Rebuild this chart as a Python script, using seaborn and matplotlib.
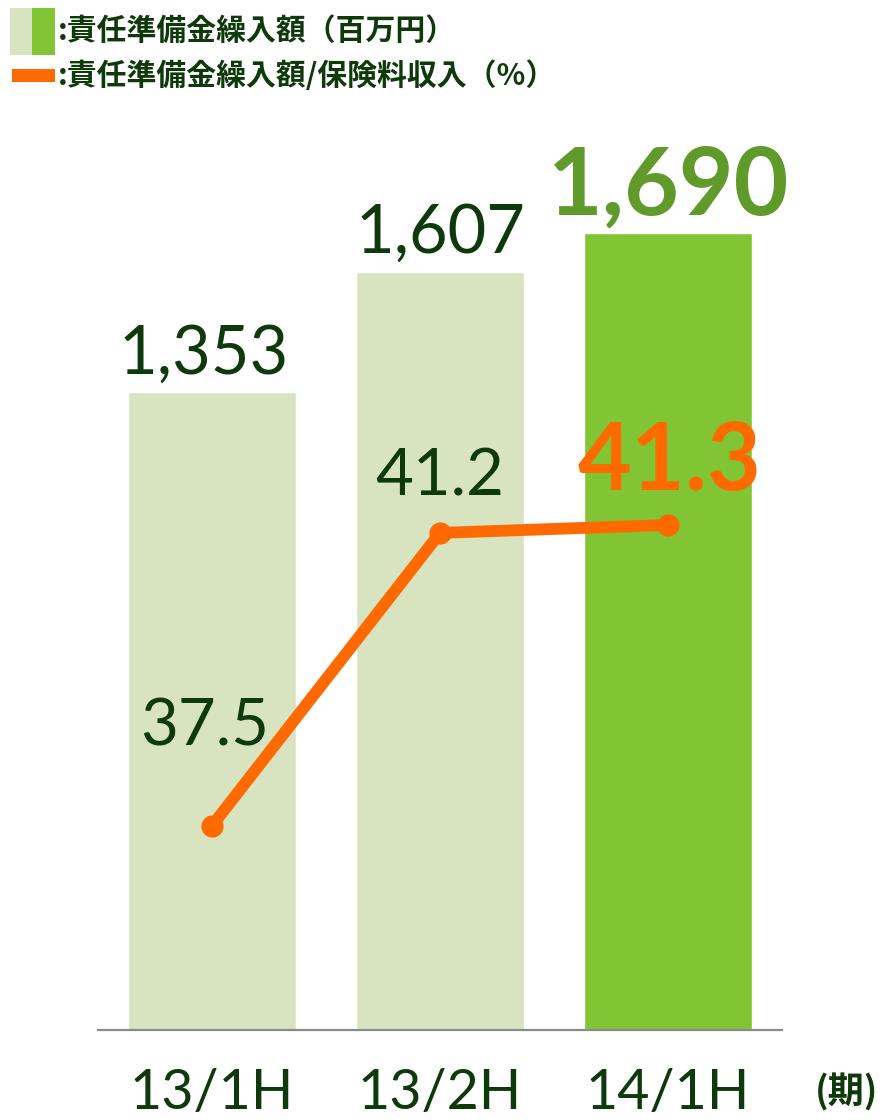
import matplotlib
matplotlib.use("Agg")
import matplotlib.pyplot as plt
from matplotlib.patches import Rectangle
import seaborn as sns
import pandas as pd

# data
period_labels = ["13/1H", "13/2H", "14/1H"]
amounts = [1353, 1607, 1690]          # 責任準備金繰入額（百万円）
ratios = [37.5, 41.2, 41.3]           # 責任準備金繰入額/保険料収入（%）

bar_colors = ["#D8E4BF", "#D8E4BF", "#82C534"]
dark = "#0E3A0B"
orange = "#FF6A00"
green_txt = "#5F9A2B"

W, H = 883, 1120
sns.set_theme(style="white")
plt.rcParams["font.family"] = ["Lato", "Noto Sans CJK JP", "DejaVu Sans"]

fig = plt.figure(figsize=(W / 100, H / 100), dpi=100)
ax = fig.add_axes([98 / W, (H - 1030) / H, (782 - 98) / W, (1030 - 130) / H])

df = pd.DataFrame({"period": period_labels, "amount": amounts, "ratio": ratios})
sns.barplot(data=df, x="period", y="amount", hue="period", palette=bar_colors,
            width=0.74, legend=False, ax=ax, saturation=1)
ax.set_xlim(-0.5, 2.5)
ax.set_ylim(0, 1908)

for s in ["top", "left", "right"]:
    ax.spines[s].set_visible(False)
ax.spines["bottom"].set_color("#8a8a8a")
ax.spines["bottom"].set_linewidth(1.6)
ax.set_yticks([])
ax.set_xlabel("")
ax.set_ylabel("")
ax.tick_params(axis="x", length=0, pad=27, labelsize=40, colors=dark)

# bar value labels
bar_offsets = [(-6, 13), (0, 14), (0, 13)]
for i, (v, off) in enumerate(zip(amounts, bar_offsets)):
    last = i == len(amounts) - 1
    ax.annotate(f"{v:,}", (i, v), xytext=off, textcoords="offset points",
                ha="center", va="baseline",
                fontsize=68 if last else 48,
                fontweight="bold" if last else "normal",
                color=green_txt if last else dark)

# ratio line on a second axis
ax2 = ax.twinx()
ax2.set_ylim(34.92, 46.29)
sns.lineplot(x=[0, 1, 2], y=ratios, color=orange, lw=8.5, marker="o",
             markersize=16, markeredgewidth=0, ax=ax2)
ax2.set_xlim(-0.5, 2.5)
ax2.axis("off")

ratio_offsets = [(-5, 58), (0, 27), (1, 25)]
for i, (v, off) in enumerate(zip(ratios, ratio_offsets)):
    last = i == len(ratios) - 1
    ax2.annotate(f"{v:.1f}", (i, v), xytext=off, textcoords="offset points",
                 ha="center", va="baseline",
                 fontsize=67 if last else 47,
                 fontweight="bold" if last else "normal",
                 color=orange if last else dark)

# legend drawn by hand at the top left
fig.add_artist(Rectangle((10 / W, (H - 55) / H), 22 / W, 47 / H,
                         transform=fig.transFigure, color="#D8E4BF", lw=0))
fig.add_artist(Rectangle((32 / W, (H - 55) / H), 23 / W, 47 / H,
                         transform=fig.transFigure, color="#82C534", lw=0))
fig.add_artist(Rectangle((12 / W, (H - 82) / H), 43 / W, 13 / H,
                         transform=fig.transFigure, color=orange, lw=0))
cjk = ["Noto Sans CJK JP", "DejaVu Sans"]
fig.text(58 / W, (H - 31) / H, ":責任準備金繰入額（百万円）", family=cjk,
         fontsize=21.5, fontweight="bold", color=dark, va="center", ha="left")
fig.text(58 / W, (H - 76) / H, ":責任準備金繰入額/保険料収入（%）", family=cjk,
         fontsize=21.5, fontweight="bold", color=dark, va="center", ha="left")
fig.text(847 / W, (H - 1093) / H, "(期)", family=cjk,
         fontsize=26, fontweight="bold", color=dark, va="center", ha="center")

fig.savefig("out.png", dpi=100)
